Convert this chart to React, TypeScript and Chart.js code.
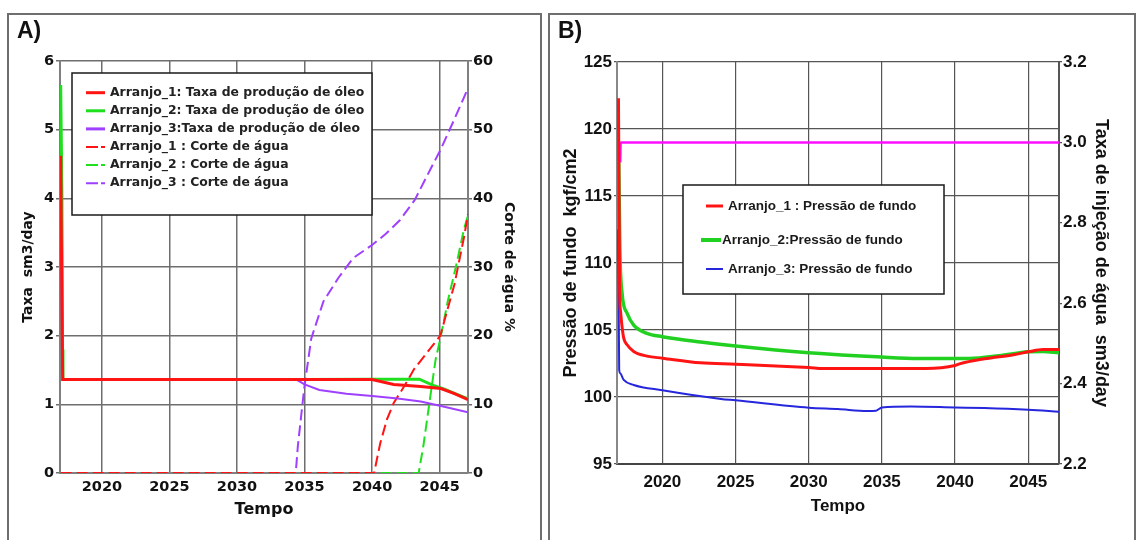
import { useEffect, useRef } from "react";
import { Chart, registerables } from "chart.js";
Chart.register(...registerables);

// ---------- shared axis values ----------
const xTicks = [2020, 2025, 2030, 2035, 2040, 2045];
const xMin = 2016.9;
const xMax = 2047.1;

// ---------- Panel A ----------
const aLeftTicks = [0, 1, 2, 3, 4, 5, 6];
const aRightTicks = [0, 10, 20, 30, 40, 50, 60];

const a1OilYears = [2016.95, 2017.0, 2017.1, 2020, 2025, 2030, 2035, 2040, 2041.6, 2043.6, 2045.1, 2046.1, 2047.1];
const a1OilRate = [4.62, 3.4, 1.36, 1.36, 1.36, 1.36, 1.36, 1.36, 1.29, 1.26, 1.23, 1.155, 1.07];

const a2OilYears = [2016.95, 2017.04, 2017.09, 2017.12, 2025, 2035, 2040, 2043.5, 2044.6, 2045.35, 2046.1, 2047.1];
const a2OilRate = [5.65, 4.05, 1.8, 1.36, 1.36, 1.36, 1.366, 1.366, 1.27, 1.22, 1.16, 1.08];

const a3OilYears = [2016.95, 2017.1, 2025, 2034.4, 2035.0, 2036.1, 2038.1, 2040, 2041.9, 2043.6, 2045.1, 2047.1];
const a3OilRate = [3.4, 1.36, 1.36, 1.36, 1.29, 1.21, 1.155, 1.12, 1.086, 1.04, 0.975, 0.885];

const a1WaterYears = [2016.95, 2040.15, 2040.6, 2041.1, 2041.6, 2042.4, 2043.1, 2044.1, 2045.05, 2046.1, 2046.8, 2047.1];
const a1WaterCut = [0, 0, 4.3, 7.8, 10.2, 12.7, 15.1, 17.6, 20.0, 27.5, 34.3, 37.7];

const a2WaterYears = [2016.95, 2043.45, 2043.8, 2044.3, 2044.7, 2045.1, 2045.6, 2046.2, 2046.8, 2047.1];
const a2WaterCut = [0, 0, 4, 11, 16.5, 20, 25, 30, 35.5, 37.5];

const a3WaterYears = [2016.95, 2034.35, 2034.5, 2034.75, 2035.0, 2035.5, 2036.4, 2037.5, 2038.6, 2040.0, 2041.0, 2042.05, 2043.17, 2044.1, 2045.02, 2045.95, 2047.05];
const a3WaterCut = [0, 0, 3.8, 8.3, 12.7, 19.6, 25.0, 28.4, 31.3, 33.2, 34.8, 36.8, 39.8, 43.4, 46.9, 50.9, 55.8];

// ---------- Panel B ----------
const bLeftTicks = [95, 100, 105, 110, 115, 120, 125];
const bRightTicks = [2.2, 2.4, 2.6, 2.8, 3.0, 3.2];

const b1Years = [2017.0, 2017.08, 2017.15, 2017.25, 2017.36, 2017.59, 2018.04, 2018.95, 2020, 2022.6, 2025, 2030, 2031, 2035, 2038, 2040, 2040.3, 2042, 2044, 2045, 2046, 2047.1];
const b1Pressure = [122.3, 108, 106.3, 105.2, 104.4, 103.9, 103.4, 103.05, 102.9, 102.55, 102.45, 102.2, 102.13, 102.13, 102.13, 102.35, 102.47, 102.85, 103.16, 103.37, 103.55, 103.55];

const b2Years = [2017.02, 2017.1, 2017.25, 2017.59, 2018.04, 2018.95, 2020, 2022.6, 2025, 2030, 2035, 2037.5, 2040, 2041, 2043, 2045, 2046, 2047.1];
const b2Pressure = [117.5, 110.8, 107.7, 106.25, 105.37, 104.75, 104.5, 104.1, 103.8, 103.3, 102.98, 102.88, 102.88, 102.88, 103.08, 103.37, 103.4, 103.3];

const b3Years = [2016.98, 2017.05, 2017.12, 2017.36, 2018.04, 2020, 2024, 2025, 2030, 2032, 2034, 2034.6, 2035, 2037, 2040, 2042, 2045, 2047.1];
const b3Pressure = [112.5, 102, 101.77, 101.27, 100.9, 100.5, 99.85, 99.75, 99.2, 99.1, 98.96, 98.98, 99.22, 99.3, 99.22, 99.17, 99.04, 98.9];

const bInjYears = [2017.12, 2017.15, 2047.1];
const bInjRate = [2.95, 3.0, 3.0];

// ---------- helpers ----------
const pts = (xs: number[], ys: number[]) => xs.map((x, i) => ({ x, y: ys[i] }));

type LegendItem = { index: number; y: number; x0: number; x1: number; tx: number; dash?: number[]; lw?: number };
type LegendCfg = { box: { x: number; y: number; w: number; h: number }; font: string; color: string; items: LegendItem[] };

function makeLegend(cfg: LegendCfg) {
  return {
    id: "boxLegend",
    afterDraw(chart: any) {
      const ctx = chart.ctx as CanvasRenderingContext2D;
      const b = cfg.box;
      ctx.save();
      ctx.fillStyle = "#ffffff";
      ctx.fillRect(b.x, b.y, b.w, b.h);
      ctx.strokeStyle = "#1a1a1a";
      ctx.lineWidth = 1.5;
      ctx.strokeRect(b.x, b.y, b.w, b.h);
      cfg.items.forEach((it) => {
        const ds = chart.data.datasets[it.index];
        ctx.beginPath();
        ctx.setLineDash(it.dash || []);
        ctx.strokeStyle = ds.borderColor;
        ctx.lineWidth = it.lw ?? ds.borderWidth;
        ctx.moveTo(it.x0, it.y);
        ctx.lineTo(it.x1, it.y);
        ctx.stroke();
        ctx.setLineDash([]);
        ctx.fillStyle = cfg.color;
        ctx.font = cfg.font;
        ctx.textBaseline = "middle";
        ctx.textAlign = "left";
        ctx.fillText(ds.label, it.tx, it.y);
      });
      ctx.restore();
    },
  };
}

const RED = "#ff1414";
const GREEN = "#1ee01e";
const PURPLE = "#a040ff";
const B_GREEN = "#22d022";
const BLUE = "#2626dd";
const MAGENTA = "#ff10ff";

const fontA = (size: number) => ({ family: "DejaVu Sans", weight: "bold" as const, size });
const fontB = (size: number) => ({ family: "Liberation Sans", weight: "bold" as const, size });

function chartA(canvas: HTMLCanvasElement) {
  const line = (label: string, xs: number[], ys: number[], color: string, width: number, axis: string, dash: number[] = []) => ({
    label,
    data: pts(xs, ys),
    borderColor: color,
    backgroundColor: color,
    borderWidth: width,
    borderDash: dash,
    pointRadius: 0,
    fill: false,
    tension: 0,
    yAxisID: axis,
  });
  const dash = [11, 5];
  const legendRows = [92.7, 110.8, 128.9, 147.0, 165.1, 183.2];
  const legend = makeLegend({
    box: { x: 72, y: 73, w: 300, h: 142 },
    font: "bold 12.4px 'DejaVu Sans'",
    color: "#222",
    items: legendRows.map((y, i) => ({ index: i, y, x0: 86, x1: 105, tx: 110, dash: i >= 3 ? [12, 3, 4, 3] : [], lw: i >= 3 ? 2 : 3 })),
  });
  return new Chart(canvas, {
    type: "line",
    data: {
      datasets: [
        line("Arranjo_1: Taxa de produção de óleo", a1OilYears, a1OilRate, RED, 3, "y"),
        line("Arranjo_2: Taxa de produção de óleo", a2OilYears, a2OilRate, GREEN, 3, "y"),
        line("Arranjo_3:Taxa de produção de óleo", a3OilYears, a3OilRate, PURPLE, 2, "y"),
        line("Arranjo_1 : Corte de água", a1WaterYears, a1WaterCut, RED, 2, "y1", dash),
        line("Arranjo_2 : Corte de água", a2WaterYears, a2WaterCut, GREEN, 2, "y1", dash),
        line("Arranjo_3 : Corte de água", a3WaterYears, a3WaterCut, PURPLE, 2, "y1", dash),
      ],
    },
    plugins: [legend],
    options: {
      responsive: false,
      animation: false,
      events: [],
      layout: { padding: { top: 61, left: 0, right: 0, bottom: 0 } },
      plugins: { legend: { display: false }, tooltip: { enabled: false } },
      scales: {
        x: {
          type: "linear",
          min: xMin,
          max: xMax,
          afterBuildTicks: (s: any) => { s.ticks = xTicks.map((v) => ({ value: v })); },
          afterFit: (s: any) => { s.height = 67; },
          grid: { color: "#6e6e6e", lineWidth: 1.5, drawTicks: false },
          border: { color: "#808080", width: 2 },
          ticks: { font: fontA(14.5), color: "#111", padding: 6, maxRotation: 0, callback: (v: any) => String(v) },
          title: { display: true, text: "Tempo", font: fontA(16), color: "#111", padding: { top: 0, bottom: 21 } },
        },
        y: {
          type: "linear",
          position: "left",
          min: 0,
          max: 6,
          afterBuildTicks: (s: any) => { s.ticks = aLeftTicks.map((v) => ({ value: v })); },
          afterFit: (s: any) => { s.width = 60; },
          grid: { color: "#6e6e6e", lineWidth: 1.5, tickLength: 4 },
          border: { color: "#808080", width: 2 },
          ticks: { font: fontA(14.5), color: "#111", padding: 2, callback: (v: any) => String(v) },
          title: { display: true, text: "Taxa  sm3/day", font: fontA(14), color: "#111", padding: { top: 20, bottom: 0 } },
        },
        y1: {
          type: "linear",
          position: "right",
          min: 0,
          max: 60,
          afterBuildTicks: (s: any) => { s.ticks = aRightTicks.map((v) => ({ value: v })); },
          afterFit: (s: any) => { s.width = 77; },
          grid: { drawOnChartArea: false, color: "#6e6e6e", lineWidth: 1.5, tickLength: 4 },
          border: { color: "#808080", width: 2 },
          ticks: { font: fontA(14.5), color: "#111", padding: 1, callback: (v: any) => String(v) },
          title: { display: true, text: "Corte de água %", font: fontA(14), color: "#111", padding: { top: 28, bottom: 0 } },
        },
      },
    } as any,
  });
}

function chartB(canvas: HTMLCanvasElement) {
  const line = (label: string, xs: number[], ys: number[], color: string, width: number, axis: string) => ({
    label,
    data: pts(xs, ys),
    borderColor: color,
    backgroundColor: color,
    borderWidth: width,
    pointRadius: 0,
    fill: false,
    cubicInterpolationMode: "monotone" as const,
    yAxisID: axis,
  });
  const legend = makeLegend({
    box: { x: 138, y: 185, w: 261, h: 109 },
    font: "bold 13.5px 'Liberation Sans'",
    color: "#1a1a1a",
    items: [
      { index: 0, y: 206, x0: 161, x1: 178, tx: 183, lw: 3 },
      { index: 1, y: 240, x0: 156, x1: 176, tx: 177, lw: 4 },
      { index: 2, y: 269, x0: 161, x1: 178, tx: 183, lw: 2 },
    ],
  });
  return new Chart(canvas, {
    type: "line",
    data: {
      datasets: [
        line("Arranjo_1 : Pressão de fundo", b1Years, b1Pressure, RED, 3, "y"),
        line("Arranjo_2:Pressão de fundo", b2Years, b2Pressure, B_GREEN, 3.5, "y"),
        line("Arranjo_3: Pressão de fundo", b3Years, b3Pressure, BLUE, 2, "y"),
        line("Taxa de injeção de água", bInjYears, bInjRate, MAGENTA, 2.5, "y1"),
      ],
    },
    plugins: [legend],
    options: {
      responsive: false,
      animation: false,
      events: [],
      layout: { padding: { top: 62, left: 0, right: 0, bottom: 0 } },
      plugins: { legend: { display: false }, tooltip: { enabled: false } },
      scales: {
        x: {
          type: "linear",
          min: xMin,
          max: xMax,
          afterBuildTicks: (s: any) => { s.ticks = xTicks.map((v) => ({ value: v })); },
          afterFit: (s: any) => { s.height = 76; },
          grid: { color: "#555", lineWidth: 1.2, drawTicks: false },
          border: { color: "#444", width: 2 },
          ticks: { font: fontB(17), color: "#111", padding: 8, maxRotation: 0, callback: (v: any) => String(v) },
          title: { display: true, text: "Tempo", font: fontB(17), color: "#111", padding: { top: 0, bottom: 23 } },
        },
        y: {
          type: "linear",
          position: "left",
          min: 95,
          max: 125,
          afterBuildTicks: (s: any) => { s.ticks = bLeftTicks.map((v) => ({ value: v })); },
          afterFit: (s: any) => { s.width = 72; },
          grid: { color: "#555", lineWidth: 1.2, tickLength: 3 },
          border: { color: "#888", width: 2 },
          ticks: { font: fontB(17), color: "#111", padding: 2, callback: (v: any) => String(v) },
          title: { display: true, text: "Pressão de fundo  kgf/cm2", font: fontB(18), color: "#111", padding: { top: 15, bottom: 0 } },
        },
        y1: {
          type: "linear",
          position: "right",
          min: 2.2,
          max: 3.2,
          afterBuildTicks: (s: any) => { s.ticks = bRightTicks.map((v) => ({ value: v })); },
          afterFit: (s: any) => { s.width = 77; },
          grid: { drawOnChartArea: false, color: "#555", lineWidth: 1.2, tickLength: 3 },
          border: { color: "#555", width: 2 },
          ticks: { font: fontB(17), color: "#111", padding: 1, callback: (v: any) => Number(v).toFixed(1) },
          title: { display: true, text: "Taxa de injeção de água  sm3/day", font: fontB(18), color: "#111", padding: { top: 24, bottom: 0 } },
        },
      },
    } as any,
  });
}

export default function App() {
  const refA = useRef<HTMLCanvasElement>(null);
  const refB = useRef<HTMLCanvasElement>(null);
  useEffect(() => {
    const a = chartA(refA.current!);
    const b = chartB(refB.current!);
    return () => {
      a.destroy();
      b.destroy();
    };
  }, []);
  const frame = { position: "absolute" as const, top: 13, height: 580, border: "2px solid #6e6e6e", boxSizing: "border-box" as const };
  const tag = { position: "absolute" as const, top: 19, fontFamily: "'Liberation Sans', Arial, sans-serif", fontWeight: 700, fontSize: 23, lineHeight: 1, color: "#111" };
  return (
    <div style={{ position: "absolute", left: 0, top: 0, width: 1136, height: 540, background: "#fff", overflow: "hidden" }}>
      <div style={{ ...frame, left: 7, width: 535 }} />
      <div style={{ ...frame, left: 548, width: 588 }} />
      <canvas ref={refA} width={545} height={540} style={{ position: "absolute", left: 0, top: 0 }} />
      <canvas ref={refB} width={591} height={540} style={{ position: "absolute", left: 545, top: 0 }} />
      <div style={{ ...tag, left: 17 }}>A)</div>
      <div style={{ ...tag, left: 558 }}>B)</div>
    </div>
  );
}
